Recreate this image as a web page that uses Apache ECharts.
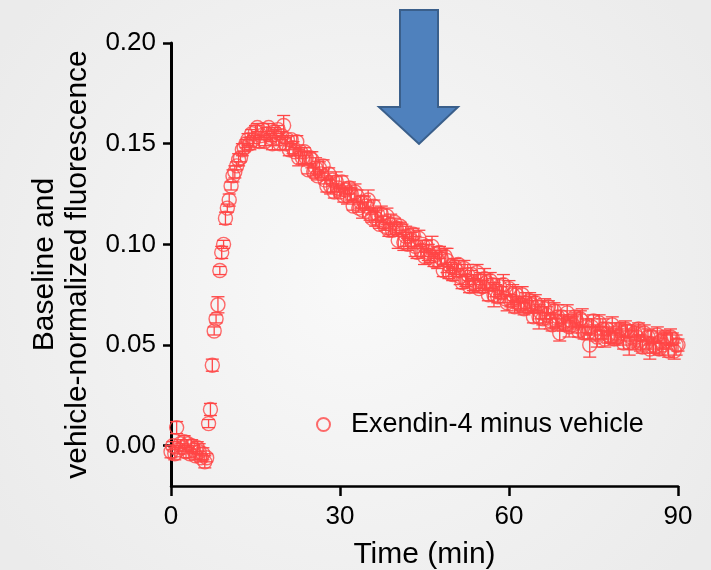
<!DOCTYPE html>
<html>
<head>
<meta charset="utf-8">
<script src="https://cdn.jsdelivr.net/npm/echarts@6/dist/echarts.min.js"></script>
<style>
html,body{margin:0;padding:0;}
#chart{width:711px;height:570px;}
</style>
</head>
<body>
<div id="chart"></div>
<script>
// Sampling interval of the recording (minutes) – 20 s steps
const timeStep = 1 / 3;

// Exendin-4 minus vehicle, mean values (one row = 2 min)
const meanValues = [
  -0.003, 0.000, -0.004, 0.009, -0.002, 0.001,
  -0.001, 0.002, -0.003, 0.001, -0.004, 0.000,
  -0.002, -0.005, -0.001, -0.003, -0.006, -0.004,
  -0.008, -0.006, 0.011, 0.018, 0.040, 0.057,
  0.063, 0.070, 0.087, 0.096, 0.100, 0.113,
  0.118, 0.122, 0.129, 0.134, 0.136, 0.139,
  0.142, 0.143, 0.147, 0.148, 0.150, 0.152,
  0.150, 0.155, 0.152, 0.156, 0.158, 0.151,
  0.154, 0.157, 0.151, 0.155, 0.158, 0.153,
  0.150, 0.156, 0.153, 0.157, 0.150, 0.154,
  0.159, 0.150, 0.152, 0.147, 0.152, 0.148,
  0.146, 0.151, 0.143, 0.146, 0.143, 0.146,
  0.143, 0.137, 0.143, 0.142, 0.136, 0.138,
  0.134, 0.138, 0.135, 0.139, 0.132, 0.129,
  0.135, 0.129, 0.132, 0.126, 0.131, 0.128,
  0.126, 0.131, 0.124, 0.127, 0.124, 0.128,
  0.125, 0.119, 0.126, 0.124, 0.118, 0.121,
  0.117, 0.121, 0.119, 0.122, 0.115, 0.113,
  0.119, 0.113, 0.115, 0.110, 0.115, 0.111,
  0.109, 0.114, 0.107, 0.110, 0.107, 0.111,
  0.108, 0.102, 0.109, 0.107, 0.101, 0.104,
  0.100, 0.104, 0.102, 0.105, 0.099, 0.096,
  0.103, 0.097, 0.100, 0.094, 0.099, 0.096,
  0.094, 0.099, 0.092, 0.095, 0.092, 0.096,
  0.093, 0.087, 0.094, 0.092, 0.086, 0.089,
  0.085, 0.089, 0.087, 0.090, 0.084, 0.081,
  0.088, 0.082, 0.085, 0.079, 0.085, 0.081,
  0.080, 0.086, 0.078, 0.082, 0.079, 0.083,
  0.081, 0.075, 0.082, 0.080, 0.075, 0.077,
  0.074, 0.079, 0.076, 0.080, 0.073, 0.071,
  0.078, 0.072, 0.075, 0.069, 0.075, 0.071,
  0.070, 0.075, 0.068, 0.071, 0.069, 0.072,
  0.070, 0.064, 0.071, 0.069, 0.064, 0.066,
  0.063, 0.068, 0.065, 0.069, 0.062, 0.060,
  0.067, 0.062, 0.064, 0.056, 0.064, 0.061,
  0.060, 0.066, 0.059, 0.062, 0.060, 0.064,
  0.062, 0.057, 0.063, 0.062, 0.056, 0.059,
  0.056, 0.050, 0.059, 0.062, 0.056, 0.054,
  0.061, 0.056, 0.058, 0.053, 0.058, 0.055,
  0.054, 0.060, 0.053, 0.056, 0.054, 0.058,
  0.056, 0.051, 0.058, 0.057, 0.051, 0.054,
  0.051, 0.056, 0.054, 0.058, 0.051, 0.049,
  0.056, 0.051, 0.054, 0.048, 0.054, 0.050,
  0.049, 0.055, 0.048, 0.052, 0.050, 0.054,
  0.052, 0.047, 0.054, 0.053, 0.047, 0.050,
  0.050
];

// SEM for each point
const semValues = [
  0.003, 0.002, 0.003, 0.003, 0.002, 0.002,
  0.002, 0.003, 0.003, 0.002, 0.002, 0.003,
  0.002, 0.002, 0.003, 0.004, 0.002, 0.003,
  0.003, 0.002, 0.002, 0.003, 0.003, 0.002,
  0.002, 0.004, 0.002, 0.003, 0.002, 0.003,
  0.002, 0.003, 0.002, 0.003, 0.003, 0.002,
  0.003, 0.002, 0.003, 0.002, 0.002, 0.003,
  0.003, 0.002, 0.002, 0.003, 0.002, 0.003,
  0.002, 0.003, 0.002, 0.003, 0.002, 0.002,
  0.003, 0.002, 0.004, 0.002, 0.003, 0.002,
  0.005, 0.003, 0.002, 0.003, 0.002, 0.003,
  0.002, 0.003, 0.004, 0.002, 0.003, 0.002,
  0.003, 0.002, 0.003, 0.004, 0.002, 0.005,
  0.002, 0.003, 0.002, 0.003, 0.002, 0.003,
  0.003, 0.004, 0.002, 0.003, 0.005, 0.002,
  0.002, 0.003, 0.003, 0.002, 0.004, 0.003,
  0.003, 0.002, 0.004, 0.003, 0.002, 0.003,
  0.004, 0.003, 0.002, 0.005, 0.003, 0.002,
  0.003, 0.004, 0.003, 0.002, 0.004, 0.003,
  0.002, 0.004, 0.003, 0.005, 0.003, 0.002,
  0.003, 0.004, 0.002, 0.003, 0.004, 0.005,
  0.003, 0.002, 0.004, 0.003, 0.005, 0.003,
  0.004, 0.003, 0.002, 0.004, 0.003, 0.004,
  0.003, 0.005, 0.003, 0.002, 0.004, 0.003,
  0.004, 0.003, 0.004, 0.006, 0.003, 0.002,
  0.003, 0.004, 0.003, 0.002, 0.004, 0.003,
  0.004, 0.003, 0.005, 0.003, 0.002, 0.004,
  0.003, 0.004, 0.002, 0.004, 0.003, 0.005,
  0.004, 0.003, 0.004, 0.003, 0.006, 0.003,
  0.003, 0.004, 0.003, 0.005, 0.002, 0.004,
  0.004, 0.003, 0.005, 0.003, 0.004, 0.003,
  0.003, 0.004, 0.003, 0.005, 0.003, 0.004,
  0.004, 0.003, 0.004, 0.003, 0.006, 0.003,
  0.003, 0.005, 0.004, 0.003, 0.004, 0.003,
  0.004, 0.003, 0.006, 0.004, 0.003, 0.004,
  0.003, 0.004, 0.005, 0.003, 0.004, 0.003,
  0.004, 0.003, 0.004, 0.006, 0.003, 0.004,
  0.003, 0.006, 0.004, 0.003, 0.004, 0.005,
  0.004, 0.003, 0.005, 0.004, 0.003, 0.004,
  0.003, 0.004, 0.003, 0.005, 0.004, 0.003,
  0.004, 0.003, 0.004, 0.003, 0.006, 0.004,
  0.003, 0.004, 0.005, 0.003, 0.004, 0.003,
  0.004, 0.003, 0.004, 0.005, 0.003, 0.004,
  0.003, 0.004, 0.003, 0.004, 0.005, 0.003,
  0.004, 0.003, 0.004, 0.003, 0.004, 0.005,
  0.003
];

const yTicks = [0, 0.05, 0.10, 0.15, 0.20];
const seriesName = 'Exendin-4 minus vehicle';
const xAxisTitle = 'Time (min)';
const yAxisTitle = 'Baseline and\nvehicle-normalized fluorescence';

const RED = '#ff4646';
const FONT = '"Liberation Sans", Arial, sans-serif';

const points = meanValues.map((v, i) => [i * timeStep, v]);
const errData = meanValues.map((v, i) => [i * timeStep, v - semValues[i], v + semValues[i]]);

const chart = echarts.init(document.getElementById('chart'), null, {renderer: 'canvas'});

const option = {
  animation: false,
  backgroundColor: {
    type: 'radial', x: 0.5, y: 0.5, r: 0.75,
    colorStops: [{offset: 0, color: '#f9f9f9'}, {offset: 1, color: '#ebebeb'}]
  },
  textStyle: {fontFamily: FONT},
  grid: {left: 171, right: 33, top: 43, bottom: 84, containLabel: false, outerBoundsMode: 'none'},
  legend: {
    left: 316, top: 411, padding: 0,
    itemWidth: 13, itemHeight: 13,
    icon: 'circle',
    textStyle: {fontFamily: FONT, fontSize: 27, color: '#000', padding: [0, 0, 0, 16]},
    data: [seriesName]
  },
  xAxis: {
    type: 'value', min: 0, max: 90, interval: 30,
    name: xAxisTitle, nameLocation: 'middle', nameGap: 54,
    nameTextStyle: {fontFamily: FONT, fontSize: 30, color: '#000'},
    axisLine: {show: true, onZero: false, lineStyle: {color: '#000', width: 2.5}},
    axisTick: {show: true, inside: false, length: 10, lineStyle: {color: '#000', width: 2.5}},
    axisLabel: {fontFamily: FONT, fontSize: 26, color: '#000', margin: 18},
    splitLine: {show: false}
  },
  yAxis: {
    type: 'value', min: -0.02, max: 0.2,
    name: yAxisTitle, nameLocation: 'middle', nameGap: 75, nameRotate: 90,
    nameTextStyle: {fontFamily: FONT, fontSize: 30, color: '#000', lineHeight: 33, align: 'center'},
    axisLine: {show: true, onZero: false, lineStyle: {color: '#000', width: 3}},
    axisTick: {show: true, inside: false, length: 8, customValues: yTicks, lineStyle: {color: '#000', width: 2.5}},
    axisLabel: {fontFamily: FONT, fontSize: 26, color: '#000', margin: 15, customValues: yTicks,
      formatter: v => v.toFixed(2)},
    splitLine: {show: false}
  },
  graphic: [{
    type: 'polygon',
    shape: {points: [[400, 10], [438, 10], [438, 107], [458, 107], [419, 144], [379, 107], [400, 107]]},
    style: {fill: '#4f81bd', stroke: '#3a5f8b', lineWidth: 2},
    z: 100
  }],
  series: [
    {
      type: 'custom',
      name: 'SEM',
      renderItem: function (params, api) {
        const x = api.value(0);
        const lo = api.coord([x, api.value(1)]);
        const hi = api.coord([x, api.value(2)]);
        const cw = 6.5;
        const style = {stroke: RED, lineWidth: 1.3, fill: null};
        return {
          type: 'group',
          children: [
            {type: 'line', shape: {x1: lo[0], y1: lo[1], x2: hi[0], y2: hi[1]}, style: style},
            {type: 'line', shape: {x1: lo[0] - cw, y1: lo[1], x2: lo[0] + cw, y2: lo[1]}, style: style},
            {type: 'line', shape: {x1: hi[0] - cw, y1: hi[1], x2: hi[0] + cw, y2: hi[1]}, style: style}
          ]
        };
      },
      encode: {x: 0, y: [1, 2]},
      data: errData,
      z: 2,
      silent: true
    },
    {
      type: 'scatter',
      name: seriesName,
      symbol: 'circle',
      symbolSize: 14,
      itemStyle: {color: 'rgba(0,0,0,0)', borderColor: RED, borderWidth: 1.4},
      data: points,
      z: 3
    }
  ]
};

chart.setOption(option);
</script>
</body>
</html>
